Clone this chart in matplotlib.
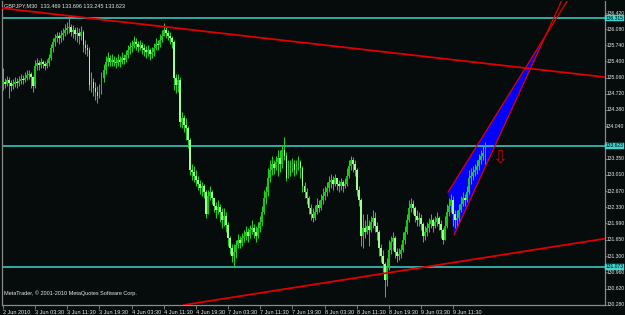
import matplotlib
matplotlib.use("Agg")
import matplotlib.pyplot as plt
import matplotlib.transforms as mtransforms
import numpy as np

# ---------------- data ----------------
symbol_title = "GBPJPY,M30  133.469 133.696 133.245 133.623"
copyright_text = "MetaTrader, \u00a9 2001-2010 MetaQuotes Software Corp."

first_open = 134.95

closes = [
    134.97, 134.93, 135.01, 134.95, 134.88, 134.93, 134.97, 134.95, 134.99, 135.03, 135.01, 135.05, 135.12, 135.14, 135.07, 134.88,
    135.30, 135.37, 135.33, 135.39, 135.35, 135.30, 135.37, 135.47, 135.68, 135.81, 135.89, 135.94, 135.89, 135.96, 136.00, 136.06,
    136.10, 136.13, 136.02, 136.06, 135.98, 136.00, 135.94, 136.02, 135.75, 135.68, 135.64, 134.90, 134.97, 134.84, 134.76, 134.67,
    134.80, 135.05, 135.22, 135.39, 135.47, 135.39, 135.43, 135.39, 135.37, 135.43, 135.39, 135.47, 135.43, 135.54, 135.64, 135.70,
    135.73, 135.81, 135.77, 135.70, 135.75, 135.68, 135.64, 135.60, 135.64, 135.56, 135.60, 135.68, 135.77, 135.75, 135.85, 135.94,
    136.06, 136.00, 135.94, 135.89, 135.81, 135.05, 134.90, 135.01, 134.13, 134.21, 134.06, 134.00, 133.75, 133.12, 133.07, 132.99,
    132.90, 132.82, 132.74, 132.78, 132.65, 132.19, 132.57, 132.65, 132.53, 132.36, 132.27, 132.34, 132.23, 132.06, 132.15, 131.96,
    131.68, 131.47, 131.31, 131.39, 131.54, 131.64, 131.58, 131.68, 131.73, 131.81, 131.73, 131.85, 131.89, 131.81, 131.73, 131.89,
    132.02, 132.23, 132.53, 132.65, 132.95, 133.12, 133.24, 133.16, 133.28, 133.37, 133.24, 133.54, 133.41, 132.95, 133.12, 133.16,
    133.24, 133.12, 133.20, 133.28, 133.16, 132.78, 132.65, 132.53, 132.32, 132.19, 132.10, 132.23, 132.38, 132.32, 132.48, 132.57,
    132.65, 132.74, 132.86, 132.90, 132.82, 132.95, 132.82, 132.78, 132.86, 132.78, 132.82, 132.99, 133.20, 133.33, 133.24, 133.12,
    132.69, 132.48, 131.73, 131.89, 131.81, 131.94, 131.85, 132.02, 132.10, 131.94, 131.81, 131.47, 131.31, 131.14, 130.80, 131.05,
    131.43, 131.60, 131.68, 131.39, 131.31, 131.35, 131.43, 131.64, 131.81, 132.06, 132.32, 132.40, 132.32, 132.15, 132.06, 132.10,
    131.98, 131.73, 131.81, 131.89, 131.98, 132.06, 131.94, 132.02, 132.10, 131.98, 131.85, 131.64, 131.94, 132.23, 132.36, 132.48,
    132.19, 132.06, 132.10, 132.27, 132.40, 132.53, 132.48, 132.65, 132.95, 132.99, 133.07, 133.12, 133.20, 133.33, 133.41, 133.469, 133.623,
]

highs = [
    135.26, 135.05, 135.09, 135.07, 135.01, 135.03, 135.07, 135.05, 135.09, 135.14, 135.12, 135.18, 135.22, 135.22, 135.18, 135.09,
    135.43, 135.47, 135.43, 135.47, 135.43, 135.41, 135.45, 135.56, 135.77, 135.89, 135.98, 136.02, 136.02, 136.06, 136.10, 136.19,
    136.23, 136.36, 136.19, 136.17, 136.13, 136.13, 136.10, 136.15, 136.06, 135.85, 135.77, 135.70, 135.18, 135.05, 134.97, 134.88,
    134.93, 135.18, 135.35, 135.52, 135.60, 135.54, 135.56, 135.52, 135.49, 135.56, 135.52, 135.60, 135.56, 135.64, 135.75, 135.81,
    135.85, 135.94, 135.89, 135.83, 135.85, 135.81, 135.77, 135.73, 135.75, 135.68, 135.70, 135.79, 135.89, 135.85, 135.98, 136.06,
    136.21, 136.13, 136.06, 136.02, 135.94, 135.85, 135.14, 135.14, 135.07, 134.34, 134.27, 134.21, 134.04, 133.79, 133.24, 133.20,
    133.12, 132.99, 132.90, 132.86, 132.82, 132.69, 132.69, 132.78, 132.69, 132.53, 132.44, 132.48, 132.40, 132.32, 132.32, 132.23,
    132.02, 131.73, 131.56, 131.56, 131.64, 131.77, 131.73, 131.79, 131.85, 131.94, 131.89, 131.96, 132.06, 131.98, 131.94, 132.02,
    132.15, 132.36, 132.69, 132.78, 133.16, 133.33, 133.41, 133.33, 133.41, 133.54, 133.54, 133.62, 133.81, 133.49, 133.33, 133.33,
    133.37, 133.33, 133.33, 133.41, 133.33, 133.20, 132.86, 132.74, 132.57, 132.40, 132.32, 132.38, 132.53, 132.48, 132.61, 132.74,
    132.78, 132.86, 132.99, 133.03, 132.99, 133.03, 132.95, 132.90, 132.95, 132.90, 132.95, 133.16, 133.33, 133.41, 133.39, 133.33,
    133.16, 132.78, 132.53, 132.19, 132.06, 132.19, 132.06, 132.15, 132.27, 132.23, 132.02, 131.85, 131.56, 131.43, 131.18, 131.26,
    131.64, 131.73, 131.81, 131.73, 131.47, 131.47, 131.56, 131.81, 131.94, 132.19, 132.48, 132.53, 132.48, 132.36, 132.27, 132.23,
    132.19, 132.02, 131.94, 132.02, 132.10, 132.19, 132.10, 132.15, 132.23, 132.15, 132.06, 131.89, 132.15, 132.40, 132.53, 132.61,
    132.57, 132.27, 132.27, 132.40, 132.57, 132.65, 132.61, 132.78, 133.12, 133.16, 133.20, 133.24, 133.33, 133.45, 133.54, 133.62, 133.696,
]

lows = [
    134.80, 134.84, 134.88, 134.63, 134.78, 134.82, 134.86, 134.84, 134.88, 134.93, 134.93, 134.97, 135.01, 135.03, 134.84, 134.76,
    134.84, 135.22, 135.22, 135.26, 135.26, 135.22, 135.26, 135.30, 135.43, 135.60, 135.73, 135.81, 135.77, 135.81, 135.85, 135.94,
    135.98, 136.00, 135.94, 135.89, 135.85, 135.81, 135.77, 135.85, 135.60, 135.56, 135.52, 134.80, 134.76, 134.67, 134.59, 134.53,
    134.63, 134.72, 134.97, 135.14, 135.30, 135.30, 135.30, 135.30, 135.26, 135.30, 135.28, 135.35, 135.35, 135.39, 135.47, 135.56,
    135.60, 135.68, 135.64, 135.60, 135.64, 135.56, 135.52, 135.47, 135.52, 135.43, 135.47, 135.52, 135.64, 135.64, 135.70, 135.81,
    135.94, 135.89, 135.85, 135.77, 135.68, 134.80, 134.74, 134.76, 134.02, 134.00, 133.92, 133.75, 133.58, 133.01, 132.90, 132.86,
    132.78, 132.69, 132.61, 132.57, 132.53, 132.10, 132.23, 132.48, 132.40, 132.23, 132.10, 132.19, 132.02, 131.89, 131.94, 131.81,
    131.52, 131.35, 131.18, 131.07, 131.26, 131.47, 131.47, 131.52, 131.60, 131.64, 131.60, 131.68, 131.77, 131.68, 131.60, 131.68,
    131.81, 131.94, 132.19, 132.40, 132.57, 132.86, 133.01, 133.03, 133.12, 132.99, 133.07, 133.16, 133.33, 132.88, 132.95, 132.99,
    133.07, 132.99, 133.03, 133.12, 132.95, 132.65, 132.53, 132.40, 132.19, 132.06, 132.02, 132.06, 132.19, 132.23, 132.27, 132.40,
    132.48, 132.57, 132.65, 132.74, 132.69, 132.78, 132.69, 132.65, 132.69, 132.65, 132.74, 132.78, 132.95, 133.12, 133.07, 132.99,
    132.57, 132.36, 131.52, 131.47, 131.68, 131.77, 131.52, 131.81, 131.89, 131.81, 131.64, 131.31, 131.18, 130.97, 130.44, 130.67,
    131.01, 131.35, 131.43, 131.26, 131.18, 131.22, 131.26, 131.39, 131.56, 131.77, 132.02, 132.23, 132.19, 132.02, 131.94, 131.94,
    131.85, 131.60, 131.64, 131.73, 131.81, 131.89, 131.81, 131.89, 131.94, 131.85, 131.68, 131.56, 131.64, 131.89, 132.15, 132.23,
    131.94, 131.89, 131.94, 132.02, 132.23, 132.36, 132.36, 132.44, 132.61, 132.82, 132.90, 132.99, 133.03, 133.12, 133.24, 133.33, 133.245,
]

time_tick_pos = [0, 16, 32, 48, 64, 80, 96, 112, 128, 144, 160, 176, 192, 208, 224]
time_tick_labels = ["2 Jun 2010", "3 Jun 03:30", "3 Jun 11:30", "3 Jun 19:30", "4 Jun 03:30",
                    "4 Jun 11:30", "4 Jun 19:30", "7 Jun 03:30", "7 Jun 11:30", "7 Jun 19:30",
                    "8 Jun 03:30", "8 Jun 11:30", "8 Jun 19:30", "9 Jun 03:30", "9 Jun 11:30"]

price_ticks = [136.420, 136.080, 135.740, 135.400, 135.060, 134.720, 134.380, 134.040, 133.700,
               133.350, 133.010, 132.670, 132.330, 131.990, 131.650, 131.300, 130.960, 130.620, 130.280]
hidden_price_labels = [133.700]   # covered by the current-price marker in the reference

hline_prices = [136.315, 133.623, 131.073]

# trendline anchors (bar index, price)
upper_trend = [(33, 136.36), (250, 135.31)]
lower_trend = [(100, 130.34), (190, 130.94)]
channel_a = (221.4, 132.65)   # upper-left corner
channel_b = (224.4, 131.75)   # lower-left corner
channel_apex = (270.0, 135.95)
arrow_point = (247.5, 133.37)

# ---------------- style ----------------
BG = "#060b0b"
GRID = "#8a8a8a"
UP = "#12c812"
DOWN = "#9dff8e"
WICK = "#1fd01f"
RED = "#e00000"
CYAN = "#3fd6cf"
TXT = "#e8e8e8"
FONT = ["Liberation Sans Narrow", "Liberation Sans", "DejaVu Sans"]
FS = 3.6      # right price scale (must fit the narrow strip)
FS_X = 4.0    # time scale and captions

plt.rcParams["font.family"] = FONT

fig = plt.figure(figsize=(6.25, 3.15), dpi=100)
fig.patch.set_facecolor(BG)
ax = fig.add_axes([2 / 625, 10 / 315, 603 / 625, 304 / 315])
ax.set_facecolor(BG)

n = len(closes)
idx = np.arange(n)
c = np.array(closes)
o = np.concatenate([[first_open], c[:-1]])
h = np.maximum.reduce([np.array(highs), o, c])
l = np.minimum.reduce([np.array(lows), o, c])

# channel fill (under candles)
ax.fill([channel_a[0], channel_apex[0], channel_b[0]],
        [channel_a[1], channel_apex[1], channel_b[1]],
        color="#0000ff", zorder=1, lw=0)

# horizontal lines
for p in hline_prices:
    ax.axhline(p, color=CYAN, lw=1.1, zorder=2)

# candles
ax.vlines(idx, l, h, colors=WICK, lw=0.75, zorder=3)
up = c >= o
body_bottom = np.minimum(o, c)
body_h = np.maximum(np.abs(c - o), 0.012)
ax.bar(idx[up], body_h[up], bottom=body_bottom[up], width=0.9, color=UP, lw=0, zorder=4)
ax.bar(idx[~up], body_h[~up], bottom=body_bottom[~up], width=0.9, color=DOWN, lw=0, zorder=4)

# trend lines (rays)
ax.axline(upper_trend[0], upper_trend[1], color=RED, lw=1.3, zorder=5)
ax.axline(lower_trend[0], lower_trend[1], color=RED, lw=1.3, zorder=5)
for start in (channel_a, channel_b):
    sx, sy = start
    ex = sx + 3 * (channel_apex[0] - sx)
    ey = sy + 3 * (channel_apex[1] - sy)
    ax.plot([sx, ex], [sy, ey], color=RED, lw=0.9, zorder=5)

# arrow
ax.text(arrow_point[0], arrow_point[1], "\u21e9", color="#d00000", fontsize=13,
        ha="center", va="center", family=["DejaVu Sans"], zorder=6)

ax.set_xlim(-0.5, 299.5)
ax.set_ylim(130.273, 136.673)

# axes styling
for s in ax.spines.values():
    s.set_color(GRID)
    s.set_linewidth(0.9)
ax.spines["top"].set_visible(False)

ax.yaxis.tick_right()
ax.set_yticks(price_ticks)
ax.set_yticklabels([])
ax.tick_params(axis="y", direction="out", length=1.5, width=0.6, color=GRID)

# price labels, right-aligned to the picture edge
ytrans = mtransforms.blended_transform_factory(fig.transFigure, ax.transData)
for v in price_ticks:
    if v in hidden_price_labels:
        continue
    ax.text(624.5 / 625, v, f"{v:.3f}", transform=ytrans, fontsize=FS, color=TXT,
            ha="right", va="center", clip_on=False)

ax.set_xticks(time_tick_pos)
ax.set_xticklabels(time_tick_labels)
ax.tick_params(axis="x", direction="out", length=3, width=0.6, color=GRID,
               labelsize=FS_X, labelcolor=TXT, pad=0.6)
for lab in ax.get_xticklabels():
    lab.set_horizontalalignment("left")

# price labels of horizontal lines
for p in hline_prices:
    ax.text(623.8 / 625, p, f"{p:.3f}", transform=ytrans, fontsize=FS, color="#000000",
            ha="right", va="center", clip_on=False, zorder=10,
            bbox=dict(boxstyle="square,pad=0.12", fc=CYAN, ec=CYAN, lw=0.3))

ax.text(0.003, 0.993, symbol_title, transform=ax.transAxes, fontsize=FS_X, color=TXT,
        ha="left", va="top")
ax.text(0.003, 0.04, copyright_text, transform=ax.transAxes, fontsize=FS_X, color=TXT,
        ha="left", va="center")

fig.savefig("out.png", dpi=100, facecolor=BG)
